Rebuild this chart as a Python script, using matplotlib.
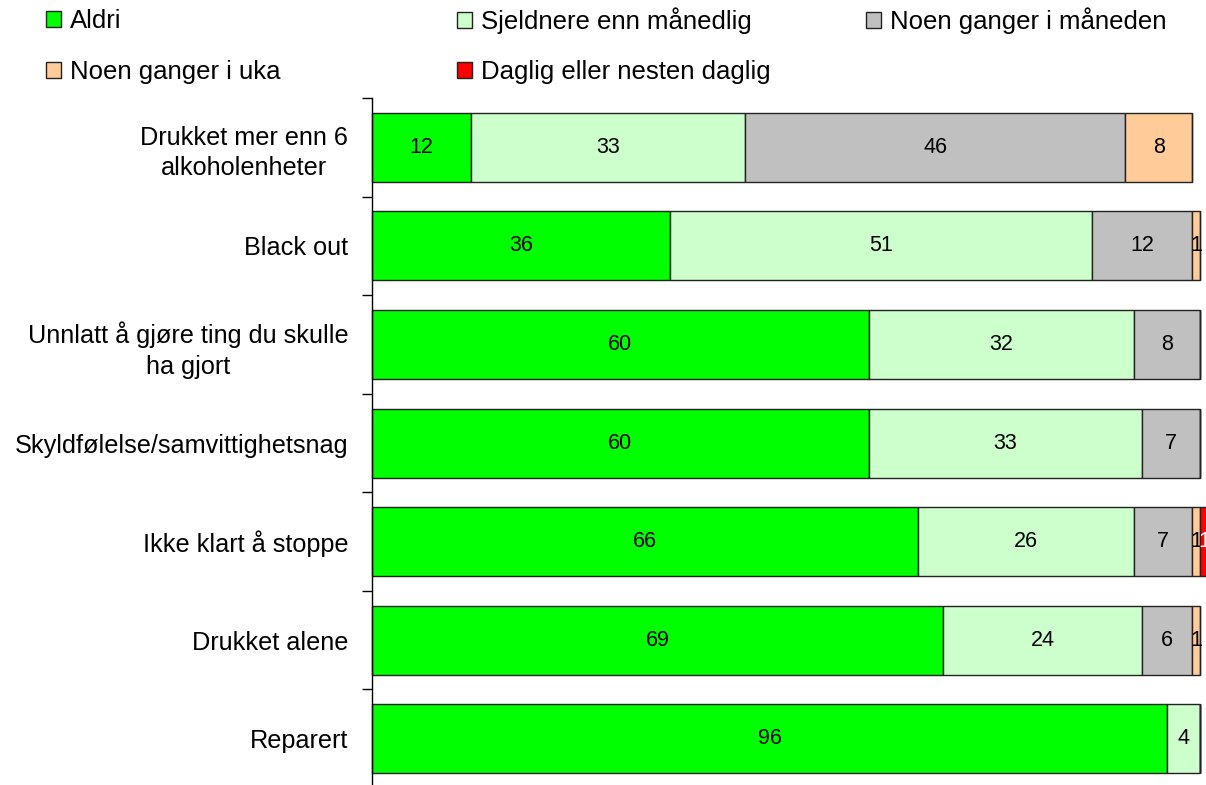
import numpy as np
import matplotlib.pyplot as plt
from matplotlib.patches import Patch

plt.rcParams['font.family'] = ['Liberation Sans', 'DejaVu Sans']

categories = ["Drukket mer enn 6\nalkoholenheter", "Black out",
              "Unnlatt å gjøre ting du skulle\nha gjort", "Skyldfølelse/samvittighetsnag",
              "Ikke klart å stoppe", "Drukket alene", "Reparert"]
series_names = ["Aldri", "Sjeldnere enn månedlig", "Noen ganger i måneden",
                "Noen ganger i uka", "Daglig eller nesten daglig"]
aldri = [12, 36, 60, 60, 66, 69, 96]
sjeldnere = [33, 51, 32, 33, 26, 24, 4]
maaned = [46, 12, 8, 7, 7, 6, 0]
uka = [8, 1, 0, 0, 1, 1, 0]
daglig = [0, 0, 0, 0, 1, 0, 0]

colors = ["#00FF00", "#CCFFCC", "#C0C0C0", "#FFCC99", "#FF0000"]
text_colors = ["black", "black", "black", "black", "white"]

W, H = 1206, 785
fig = plt.figure(figsize=(W / 100, H / 100), dpi=100)
ax = fig.add_axes([372 / W, -3 / H, 828 / W, 690 / H])

y = np.arange(len(categories))
left = np.zeros(len(categories))
for vals, name, col, tcol in zip([aldri, sjeldnere, maaned, uka, daglig], series_names, colors, text_colors):
    vals = np.array(vals, dtype=float)
    bars = ax.barh(y, vals, left=left, height=0.7, color=col, edgecolor="#222222",
                   linewidth=1.0, label=name, clip_on=False)
    for b, v in zip(bars, vals):
        if v > 0:
            ax.text(b.get_x() + b.get_width() / 2, b.get_y() + b.get_height() / 2, f"{int(v)}",
                    ha="center", va="center", fontsize=15.5, color=tcol, clip_on=False)
    left += vals

ax.set_xlim(0, 100)
ax.set_ylim(len(categories) - 0.5, -0.5)
ax.set_yticks(y)
ax.set_yticklabels(categories, fontsize=18.2, linespacing=1.35)
ax.set_yticks(np.arange(-0.5, len(categories), 1), minor=True)
ax.tick_params(axis="y", which="major", length=0, pad=17)
ax.tick_params(axis="y", which="minor", length=7, direction="out", width=1)
for lab in ax.get_yticklabels():
    lab.set_multialignment("center")
ax.set_xticks([])
for s in ["top", "right", "bottom"]:
    ax.spines[s].set_visible(False)
ax.spines["left"].set_linewidth(1)

# legend: one entry per spot so the layout matches the original grid
legend_spots = [(46, 21), (457, 21), (866, 21), (46, 72), (457, 72)]
for name, col, (lx, ly) in zip(series_names, colors, legend_spots):
    fig.legend([Patch(facecolor=col, edgecolor="#222222", linewidth=1)], [name],
               loc="center left", bbox_to_anchor=(lx / W, 1 - ly / H), frameon=False,
               fontsize=18.5, handlelength=0.6, handleheight=0.6, handletextpad=0.35,
               borderaxespad=0.0, borderpad=0.0)

fig.savefig("out.png", dpi=100)
